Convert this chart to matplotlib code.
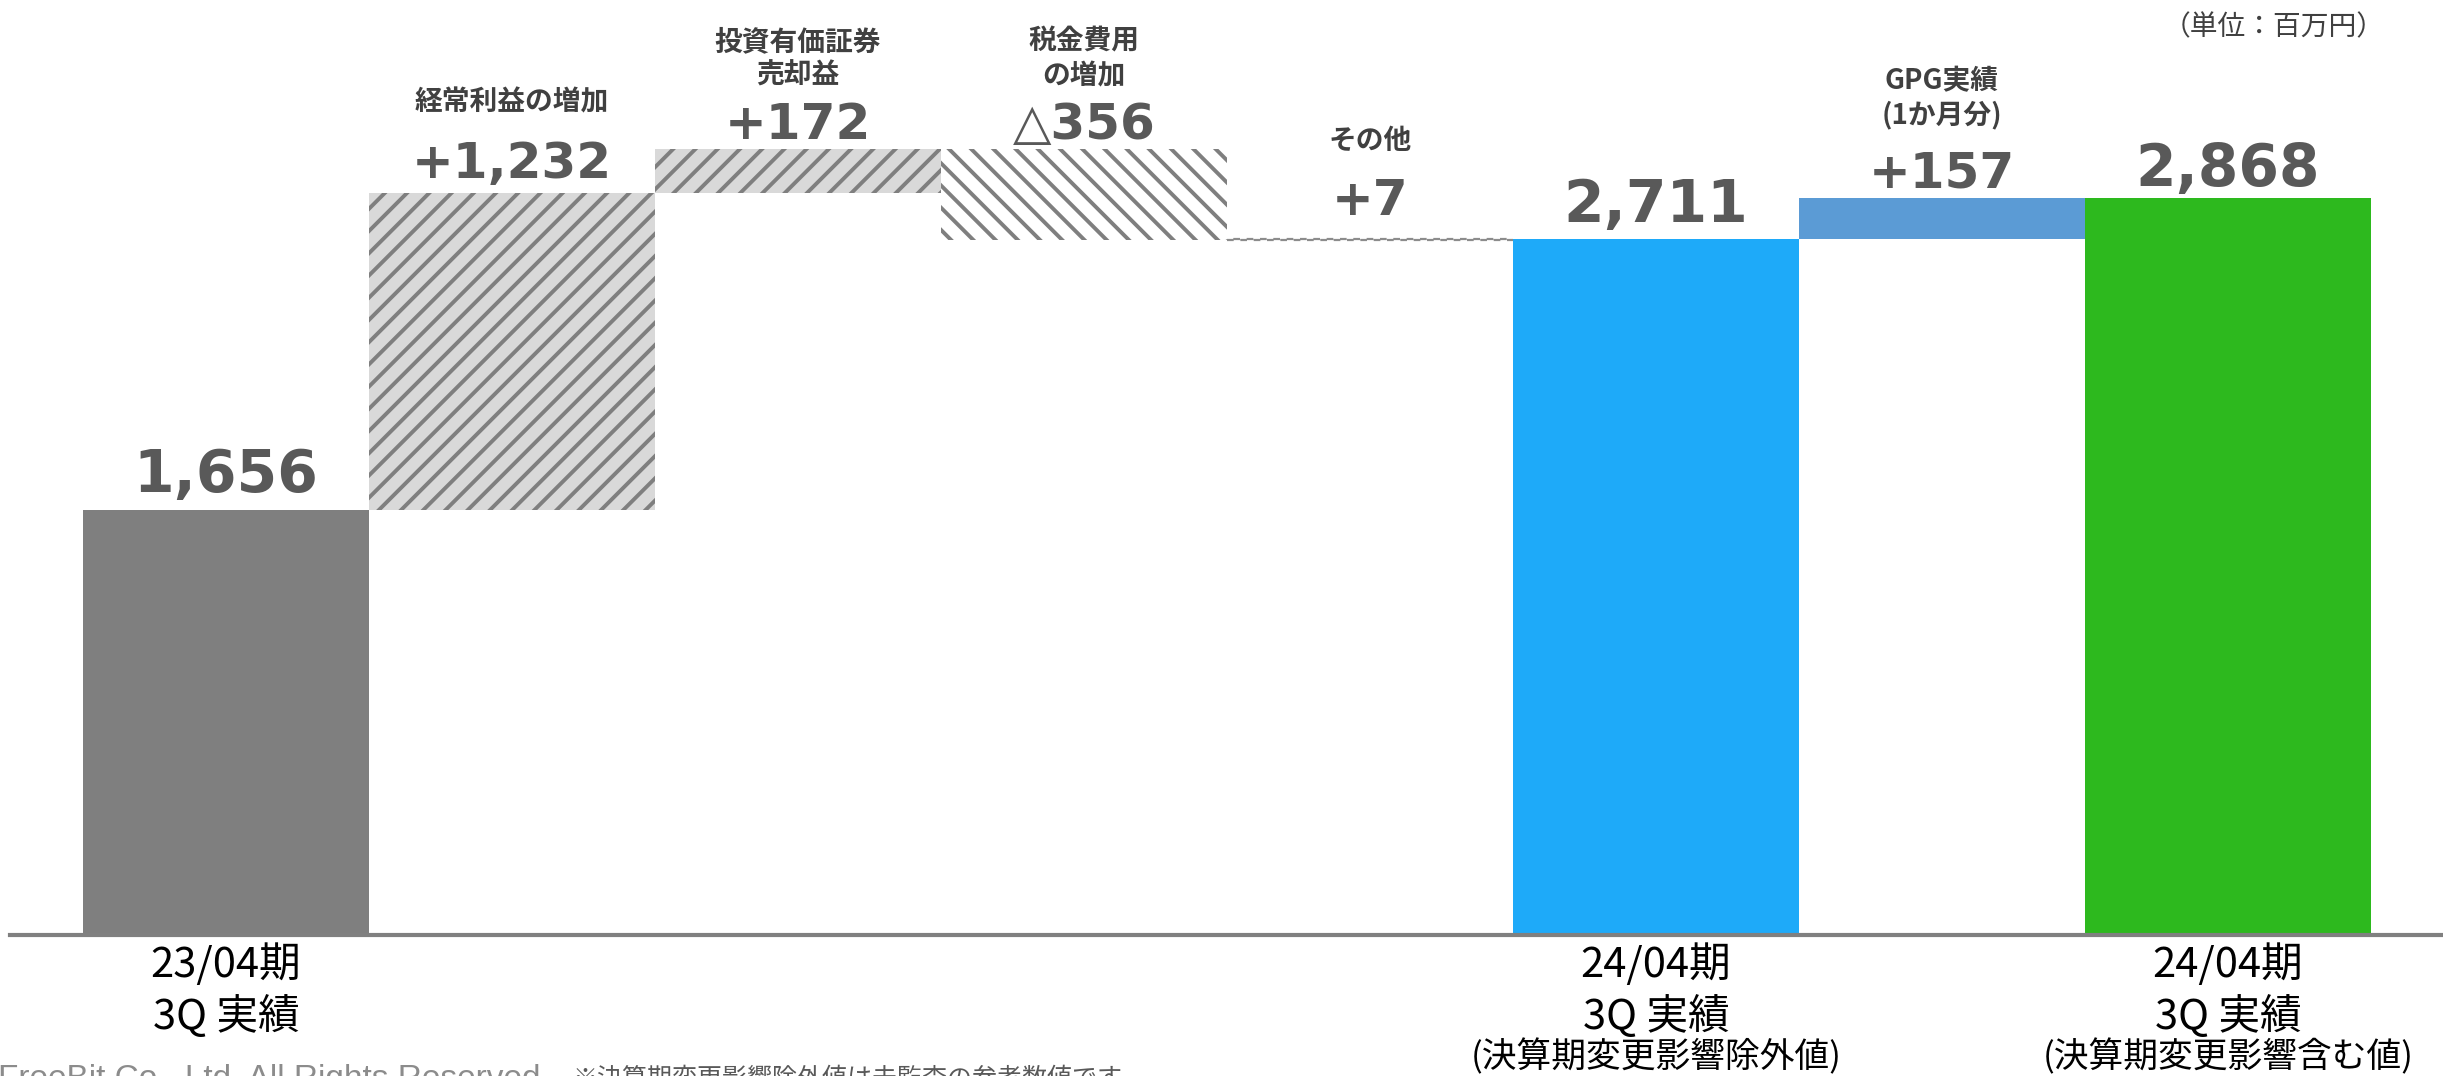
import matplotlib.pyplot as plt
from matplotlib import transforms

# Waterfall of ordinary profit, 23/04 3Q -> 24/04 3Q (unit: million yen)
kinds = ['total', 'delta', 'delta', 'delta', 'delta', 'total', 'delta', 'total']
values = [1656, 1232, 172, -356, 7, 2711, 157, 2868]
titles = [[], ['経常利益の増加'], ['投資有価証券', '売却益'], ['税金費用', 'の増加'],
          ['その他'], [], ['GPG実績', '(1か月分)'], []]
bottom_labels = {0: ['23/04期', '3Q 実績'],
                 5: ['24/04期', '3Q 実績', '(決算期変更影響除外値)'],
                 7: ['24/04期', '3Q 実績', '(決算期変更影響含む値)']}

W, H, DPI = 2443, 1076, 200
BASE = 935          # pixel row of the x axis
SCALE = 0.2569      # pixels per million yen

plt.rcParams['font.family'] = ['DejaVu Sans', 'Noto Sans CJK JP']
plt.rcParams['hatch.linewidth'] = 1.4

fig = plt.figure(figsize=(W / DPI, H / DPI), dpi=DPI)
ax = fig.add_axes([10 / W, 1 - BASE / H, (W - 10) / W, BASE / H])
ax.set_xlim(-0.755, 7.752)
ax.set_ylim(0, BASE / SCALE)

# bar styles
styles = [
    dict(color='#7f7f7f'),
    dict(facecolor='#d9d9d9', edgecolor='#7f7f7f', hatch='///', linewidth=0),
    dict(facecolor='#d9d9d9', edgecolor='#7f7f7f', hatch='///', linewidth=0),
    dict(facecolor='white', edgecolor='#7f7f7f', hatch='\\\\\\', linewidth=0),
    dict(facecolor='#d9d9d9', edgecolor='#8c8c8c', linestyle=(0, (3, 3)), linewidth=0.8),
    dict(color='#1eaaf9'),
    dict(color='#5b9bd5'),
    dict(color='#2db91e'),
]

# work out the floating bars from the running total
running = 0
for i, (kind, v) in enumerate(zip(kinds, values)):
    if kind == 'total':
        bottom, height = 0, v
        running = v
        label = f'{v:,}'
        size = 21
    else:
        bottom, height = min(running, running + v), abs(v)
        running += v
        label = f'+{v:,}' if v >= 0 else f'△{-v:,}'
        size = 18
    ax.bar(i, height, bottom=bottom, width=1.0, **styles[i])
    top = bottom + height
    gap = {0: 6.5, 1: 5.4, 2: 3.6, 3: 3.6, 4: 8.3, 5: 6.1, 6: 4.0, 7: 4.3}[i]
    ax.annotate(label, (i, top), xytext=(0, gap), textcoords='offset points',
                ha='center', va='baseline', fontsize=size, fontweight='bold',
                color='#595959')

# category titles above the change bars (baselines in pixel rows)
tr = transforms.blended_transform_factory(ax.transData, fig.transFigure)
last_baseline = {1: 110, 2: 84, 3: 84, 4: 149, 6: 123}
for i, lines in enumerate(titles):
    for k, line in enumerate(lines):
        row = last_baseline[i] - 34 * (len(lines) - 1 - k)
        ax.text(i, 1 - row / H, line, transform=tr, ha='center', va='baseline',
                fontsize=10, fontweight='bold', color='#404040',
                family=['Noto Sans CJK JP', 'DejaVu Sans'])

# period labels under the axis
rows = [977, 1029, 1067]
for i, lines in bottom_labels.items():
    for k, line in enumerate(lines):
        ax.text(i, 1 - rows[k] / H, line, transform=tr, ha='center', va='baseline',
                fontsize=15 if k < 2 else 12.5, color='black',
                family=['Noto Sans CJK JP', 'DejaVu Sans'])

# axis styling
for side in ['top', 'right', 'left']:
    ax.spines[side].set_visible(False)
ax.spines['bottom'].set_color('#808080')
ax.spines['bottom'].set_linewidth(1.5)
ax.set_xticks([])
ax.set_yticks([])
ax.patch.set_alpha(0)

# unit and footer texts
fig.text(2385 / W, 1 - 35 / H, '（単位：百万円）', ha='right', va='baseline',
         fontsize=10, color='#404040', family=['Noto Sans CJK JP', 'DejaVu Sans'])
fig.text(-2 / W, 1 - 1064 / H, 'FreeBit Co., Ltd. All Rights Reserved.', ha='left',
         va='top', fontsize=12, color='#8c8c8c', family='Liberation Sans')
fig.text(572 / W, 1 - 1066 / H, '※決算期変更影響除外値は未監査の参考数値です', ha='left',
         va='top', fontsize=9, color='#595959', family=['Noto Sans CJK JP', 'DejaVu Sans'])

fig.savefig('out.png', dpi=DPI)
